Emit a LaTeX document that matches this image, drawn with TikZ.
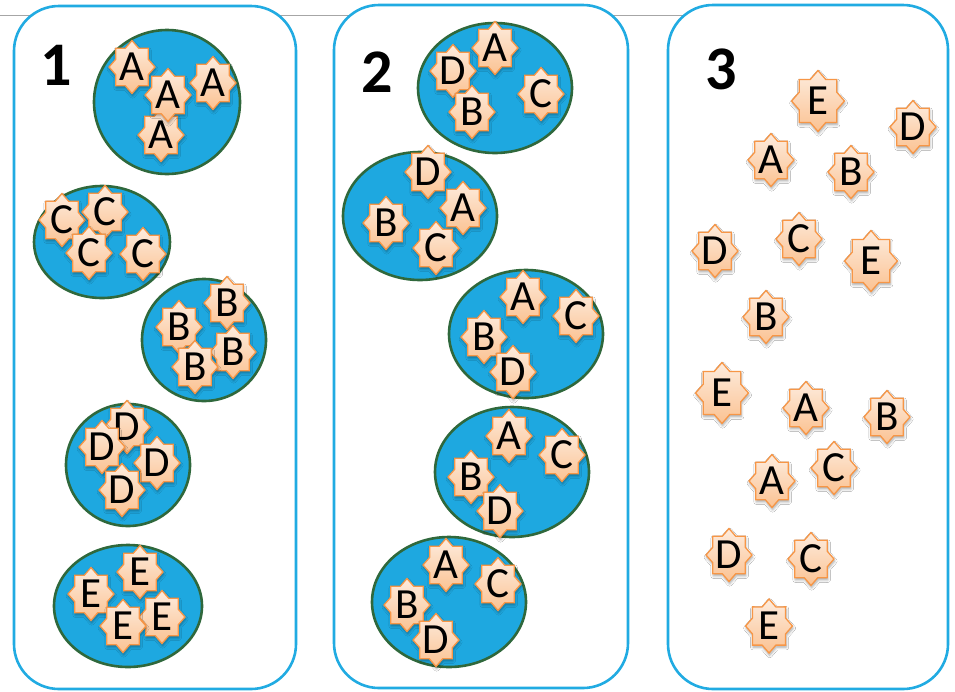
\documentclass[tikz,border=0pt]{standalone}
\usepackage{fontspec}
\setmainfont{Carlito}
\usetikzlibrary{shadows,shadows.blur}
\definecolor{panelc}{RGB}{33,171,226}
\definecolor{ellfill}{RGB}{30,168,224}
\definecolor{elldraw}{RGB}{47,104,60}
\definecolor{starline}{RGB}{247,150,70}
\definecolor{startop}{RGB}{253,236,222}
\definecolor{starbot}{RGB}{251,194,146}
\definecolor{grayline}{RGB}{166,166,166}
\tikzset{
  panel/.style={draw=panelc, line width=2.6pt, fill=white, rounded corners=45pt},
  ell/.style={draw=elldraw, fill=ellfill, line width=2.6pt},
  starsty/.style={draw=starline, line width=1.3pt, top color=startop, bottom color=starbot,
    blur shadow={shadow blur steps=6, shadow xshift=0.6pt, shadow yshift=-2.2pt, shadow opacity=35, shadow blur radius=2.5pt}},
  lettersty/.style={font=\fontsize{43}{43}\selectfont, inner sep=0pt, text=black},
  numsty/.style={font=\fontsize{62}{62}\selectfont\bfseries, inner sep=0pt, text=black},
}
\newcount\starno
\newcommand\st[4][1]{%
  \global\advance\starno by 1
  \path[starsty, shift={(#2,#3)}, xscale=23, yscale=26.5, scale=#1] (90:1)
    \foreach \a in {1,...,15}{ -- ({90+22.5*\a}:{1-0.235*mod(\a,2)}) } -- cycle;
  \node[lettersty] (s\the\starno) at (#2,#3) {#4};
}
\begin{document}
\begin{tikzpicture}[x=1pt, y=-1pt]
\path[fill=white] (0,0) rectangle (955,691);
\useasboundingbox (0,0) rectangle (955,691);
\draw[grayline, line width=1.4pt] (0,15.5) -- (700,15.5);
% panels
\draw[panel] (14,6) rectangle (296,689);
\draw[panel] (334,5) rectangle (628,688);
\draw[panel] (668,5) rectangle (948,689);
% numbers
\node[numsty] (n1) at (56,65) {1};
\node[numsty] (n2) at (377,72) {2};
\node[numsty] (n3) at (721,69) {3};
% panel 1 ellipses
\draw[ell] (167,102) ellipse [x radius=73pt, y radius=72pt];
\draw[ell] (102,242) ellipse [x radius=68pt, y radius=56pt];
\draw[ell] (204,340) ellipse [x radius=62pt, y radius=61pt];
\draw[ell] (128,465) ellipse [x radius=62pt, y radius=61pt];
\draw[ell] (128,606) ellipse [x radius=74pt, y radius=61pt];
% panel 2 ellipses
\draw[ell] (495,88) ellipse [x radius=77pt, y radius=65pt];
\draw[ell] (420,216) ellipse [x radius=77pt, y radius=64pt];
\draw[ell] (526,334) ellipse [x radius=77pt, y radius=64pt];
\draw[ell] (512,472) ellipse [x radius=77pt, y radius=65pt];
\draw[ell] (449,602) ellipse [x radius=77pt, y radius=65pt];
% panel 1 stars
\st{132}{67}{A}\st{161}{135}{A}\st{168}{95}{A}\st{213}{83}{A}
\st{62}{220}{C}\st{105}{212}{C}\st{89}{253}{C}\st{143}{254}{C}
\st{179}{327}{B}\st{227}{303}{B}\st{233}{352}{B}\st{195}{367}{B}
\st{127}{427}{D}\st{102}{447}{D}\st{157}{463}{D}\st{122}{490}{D}
\st{140}{572}{E}\st{91}{594}{E}\st{162}{617}{E}\st{123}{626}{E}
% panel 2 stars
\st{495}{48}{A}\st{453}{71}{D}\st{541}{94}{C}\st{472}{112}{B}
\st{428}{172}{D}\st{463}{208}{A}\st{386}{223}{B}\st{436}{248}{C}
\st{523}{297}{A}\st{576}{316}{C}\st{484}{337}{B}\st{513}{372}{D}
\st{509}{436}{A}\st{562}{455}{C}\st{471}{477}{B}\st{500}{511}{D}
\st{446}{565}{A}\st{498}{584}{C}\st{407}{605}{B}\st{436}{640}{D}
% panel 3 stars
\st[1.15]{818}{101}{E}\st{913}{127}{D}
\st{771}{160}{A}\st{851}{172}{B}
\st{799}{239}{C}\st{715}{251}{D}\st[1.15]{871}{261}{E}
\st{766}{317}{B}
\st[1.15]{722}{393}{E}\st{806}{408}{A}\st{887}{417}{B}
\st{834}{468}{C}\st{772}{481}{A}
\st{729}{555}{D}\st{811}{559}{C}
\st[1.02]{769}{626}{E}
\end{tikzpicture}
\end{document}
